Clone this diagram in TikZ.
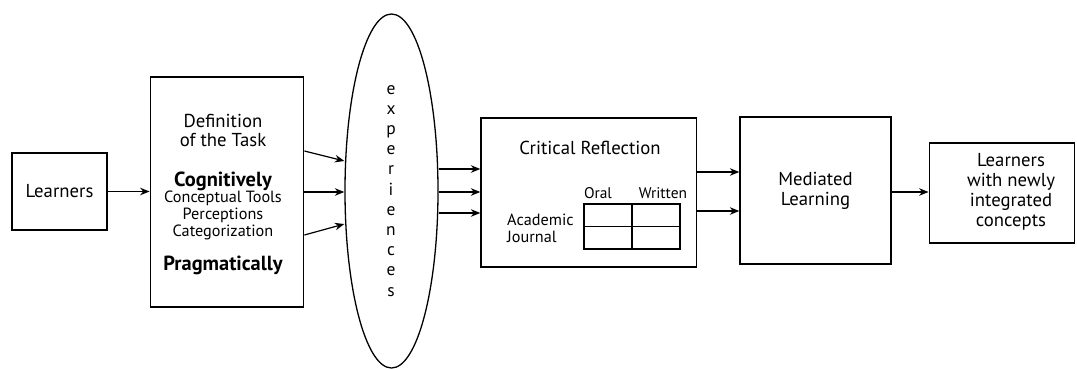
\documentclass[tikz,border=0pt]{standalone}
\usepackage{fontspec}
\setmainfont{PT Sans}
\usetikzlibrary{shapes.geometric,arrows.meta}
\begin{document}
\begin{tikzpicture}[x=1bp,y=-1bp,
  box/.style={draw,line width=1.3bp,inner sep=0pt},
  arr/.style={-{Stealth[length=9.5bp,width=7.5bp]},line width=1.2bp},
  txt/.style={inner sep=0pt,align=center},
  big/.style={font=\fontsize{18.8}{20}\selectfont},
  mid/.style={font=\fontsize{16.3}{17}\selectfont},
  bigb/.style={font=\fontsize{20.5}{22}\selectfont\bfseries},
  small/.style={font=\fontsize{15.5}{16}\selectfont}]
\useasboundingbox (0,0) rectangle (1077,368);
% boxes
\node[box,big,minimum width=95bp,minimum height=77bp] (lrn) at (59.5,191.5) {Learners};
\node[box,minimum width=153.5bp,minimum height=230bp] (def) at (227,192) {};
\node[draw,ellipse,line width=1.3bp,minimum width=93bp,minimum height=354bp,inner sep=0pt] (exp) at (391.5,191) {};
\node[box,minimum width=215.5bp,minimum height=149bp] (crit) at (588.75,192.5) {};
\node[box,big,txt,minimum width=151bp,minimum height=147bp] (med) at (815.5,190.5) {Mediated\\Learning};
\node[box,minimum width=145.5bp,minimum height=100bp] (fin) at (1002,193) {};
% definition texts
\node[txt,big] (d1) at (223,130.5) {Definition\\of the Task};
\node[txt,bigb] (d2) at (223,181) {Cognitively};
\node[txt,mid] (d3) at (223,215) {Conceptual Tools\\Perceptions\\Categorization};
\node[txt,bigb] (d4) at (223,265) {Pragmatically};
% experiences
\foreach \c [count=\i] in {e,x,p,e,r,i,e,n,c,e,s}
  \node[inner sep=0pt,anchor=base,font=\fontsize{17.5}{18}\selectfont] (l\i) at (391,94+\i*20.2-20.2) {\c};
% critical reflection content
\node[txt,big] (ct) at (590,148) {Critical Reflection};
\node[txt,small] (oral) at (598,193) {Oral};
\node[txt,small] (writ) at (663,193) {Written};
\node[txt,mid,align=left,anchor=west] (aj) at (507,228) {Academic\\Journal};
\node[draw,line width=1.3bp,inner sep=0pt,minimum width=96bp,minimum height=45bp] (tab) at (632,226.5) {};
\draw[line width=1.3bp] (tab.north) -- (tab.south);
\draw[line width=1.3bp] (tab.west) -- (tab.east);
% final text
\node[txt,big] (ft) at (1011,192) {Learners\\with newly\\integrated\\concepts};
% connectors
\draw[arr] (lrn.east) -- (def.west |- lrn.east);
\draw[arr] (def.east |- 0,151) -- (exp.west |- 0,161);
\draw[arr] (def.east |- 0,192) -- (exp.west |- 0,192);
\draw[arr] (def.east |- 0,235) -- (exp.west |- 0,224);
\draw[arr] (exp.east |- 0,169) -- (crit.west |- 0,169);
\draw[arr] (exp.east |- 0,192) -- (crit.west |- 0,192);
\draw[arr] (exp.east |- 0,213) -- (crit.west |- 0,213);
\draw[arr] (crit.east |- 0,172) -- (med.west |- 0,172);
\draw[arr] (crit.east |- 0,211) -- (med.west |- 0,211);
\draw[arr] (med.east |- 0,192) -- (fin.west |- 0,192);
\end{tikzpicture}
\end{document}
